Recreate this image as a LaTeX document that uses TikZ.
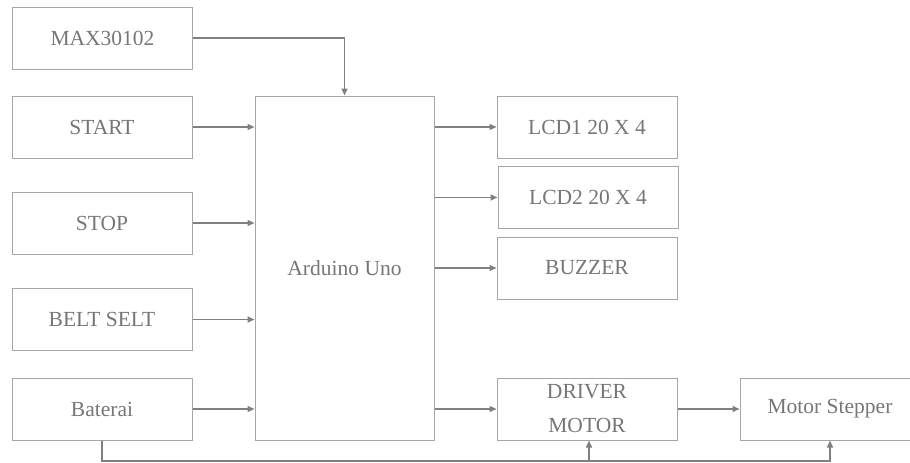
\documentclass[tikz,border=0pt]{standalone}
\usepackage{fontspec}
\setmainfont{Liberation Serif}
\usepackage{tikz}
\usetikzlibrary{arrows.meta,positioning}
\definecolor{boxgray}{RGB}{166,166,166}
\definecolor{linegray}{RGB}{128,128,128}
\definecolor{textgray}{RGB}{118,118,118}

\begin{document}
\begin{tikzpicture}[
  x=1pt, y=-1pt,
  block/.style={rectangle, draw=boxgray, line width=1pt, minimum width=180pt, minimum height=62pt, text=textgray, font=\fontsize{21.5}{34}\selectfont, align=center, inner sep=0pt},
  arr/.style={-{Triangle[length=7pt,width=6pt]}, line width=1.5pt, linegray}
]
  \useasboundingbox (0,0) rectangle (910,463);
  \clip (0,0) rectangle (910,463);

  \node[block] (max) at (102.5,38) {MAX30102};
  \node[block] (start) at (102,127) {START};
  \node[block] (stop) at (102,223) {STOP};
  \node[block] (belt) at (102,319.5) {BELT SELT};
  \node[block] (bat) at (102,409) {Baterai};
  \node[block, minimum width=179pt, minimum height=344pt] (uno) at (344.5,268) {Arduino Uno};
  \node[block] (lcd1) at (587,127) {LCD1 20 X 4};
  \node[block] (lcd2) at (588,197.5) {LCD2 20 X 4};
  \node[block] (buzzer) at (587,268) {BUZZER};
  \node[block] (driver) at (587,409) {DRIVER\\MOTOR};
  \node[block] (stepper) at (830,409) {Motor Stepper};

  \draw[arr] (max.east) -| (uno.north);
  \foreach \n in {start,stop,belt,bat} {
    \draw[arr] (\n.east) -- (uno.west |- \n.east);
  }
  \foreach \n in {lcd1,lcd2,buzzer,driver} {
    \draw[arr] (uno.east |- \n.west) -- (\n.west);
  }
  \draw[arr] (driver.east) -- (stepper.west);

  \coordinate (gnd) at (102,461);
  \draw[arr] (bat.south) -- (gnd) -| (stepper.south);
  \draw[arr] ([xshift=2pt]driver.south |- gnd) -- ([xshift=2pt]driver.south);
\end{tikzpicture}
\end{document}
